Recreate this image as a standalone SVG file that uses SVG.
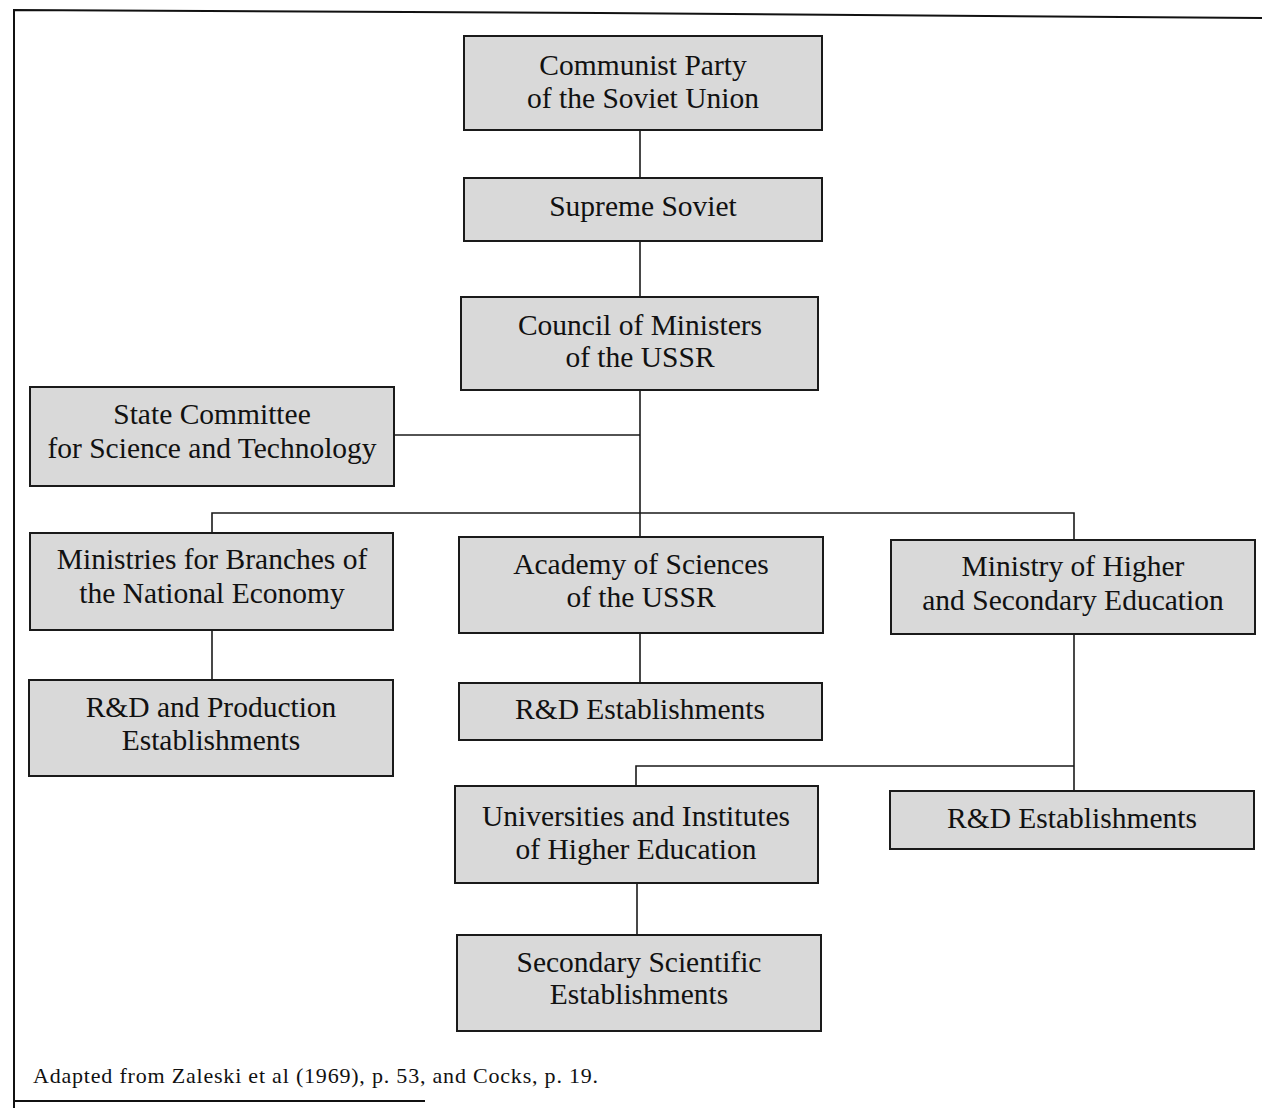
<svg xmlns="http://www.w3.org/2000/svg" width="1262" height="1108" viewBox="0 0 1262 1108">
<style>
.box{fill:#d9d9d9;stroke:#1a1a1a;stroke-width:2}
.t{font-family:"Liberation Serif",serif;font-size:29.5px;fill:#111;text-anchor:middle}
.c{stroke:#1a1a1a;stroke-width:1.6;fill:none}
.fr{stroke:#111;stroke-width:2;fill:none}
.note{font-family:"Liberation Serif",serif;font-size:22px;letter-spacing:0.8px;fill:#111}
</style>
<rect width="1262" height="1108" fill="#fff"/>
<g id="frame">
<polyline class="fr" points="14,1108 14,10 600,13 1262,18"/>
<line class="fr" x1="14" y1="1101" x2="425" y2="1101"/>
</g>
<g id="connectors">
<line class="c" x1="640" y1="130" x2="640" y2="178"/>
<line class="c" x1="640" y1="241" x2="640" y2="297"/>
<line class="c" x1="640" y1="390" x2="640" y2="537"/>
<line class="c" x1="394" y1="435" x2="640" y2="435"/>
<polyline class="c" points="212,533 212,513 1074,513 1074,540"/>
<line class="c" x1="212" y1="630" x2="212" y2="680"/>
<line class="c" x1="640" y1="633" x2="640" y2="683"/>
<line class="c" x1="1074" y1="634" x2="1074" y2="791"/>
<polyline class="c" points="636,786 636,766 1074,766"/>
<line class="c" x1="637" y1="883" x2="637" y2="935"/>
</g>
<g id="cpsu"><rect class="box" x="464" y="36" width="358" height="94"/><text class="t" x="643" y="75">Communist Party</text><text class="t" x="643" y="108">of the Soviet Union</text></g>
<g id="supreme"><rect class="box" x="464" y="178" width="358" height="63"/><text class="t" x="643" y="216">Supreme Soviet</text></g>
<g id="council"><rect class="box" x="461" y="297" width="357" height="93"/><text class="t" x="640" y="335">Council of Ministers</text><text class="t" x="640" y="367">of the USSR</text></g>
<g id="statecomm"><rect class="box" x="30" y="387" width="364" height="99"/><text class="t" x="212" y="424">State Committee</text><text class="t" x="212" y="458">for Science and Technology</text></g>
<g id="ministries"><rect class="box" x="30" y="533" width="363" height="97"/><text class="t" x="212" y="569">Ministries for Branches of</text><text class="t" x="212" y="603">the National Economy</text></g>
<g id="academy"><rect class="box" x="459" y="537" width="364" height="96"/><text class="t" x="641" y="574">Academy of Sciences</text><text class="t" x="641" y="607">of the USSR</text></g>
<g id="minhigher"><rect class="box" x="891" y="540" width="364" height="94"/><text class="t" x="1073" y="576">Ministry of Higher</text><text class="t" x="1073" y="610">and Secondary Education</text></g>
<g id="rdprod"><rect class="box" x="29" y="680" width="364" height="96"/><text class="t" x="211" y="717">R&amp;D and Production</text><text class="t" x="211" y="750">Establishments</text></g>
<g id="rdacad"><rect class="box" x="459" y="683" width="363" height="57"/><text class="t" x="640" y="719">R&amp;D Establishments</text></g>
<g id="universities"><rect class="box" x="455" y="786" width="363" height="97"/><text class="t" x="636" y="826">Universities and Institutes</text><text class="t" x="636" y="859">of Higher Education</text></g>
<g id="rdhigher"><rect class="box" x="890" y="791" width="364" height="58"/><text class="t" x="1072" y="828">R&amp;D Establishments</text></g>
<g id="secondary"><rect class="box" x="457" y="935" width="364" height="96"/><text class="t" x="639" y="972">Secondary Scientific</text><text class="t" x="639" y="1004">Establishments</text></g>
<text class="note" x="33" y="1083">Adapted from Zaleski et al (1969), p. 53, and Cocks, p. 19.</text>
</svg>
